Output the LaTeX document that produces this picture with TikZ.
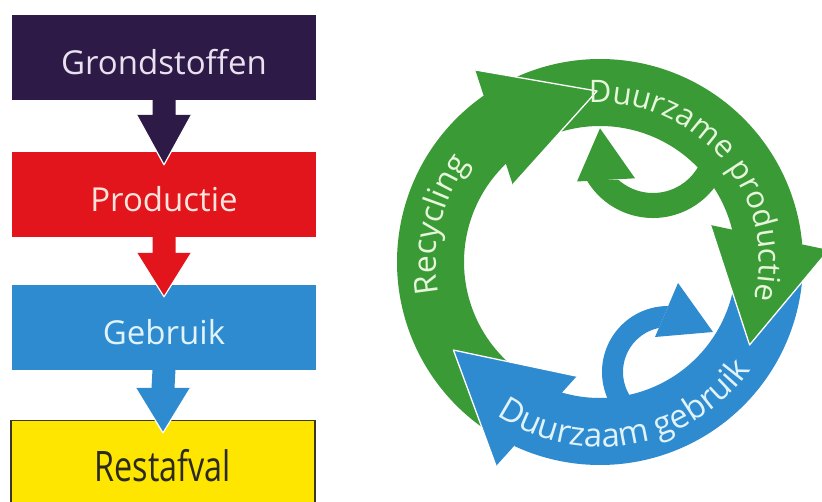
\documentclass[tikz,border=0pt]{standalone}
\usepackage{fontspec}
\setmainfont{Open Sans}
\usetikzlibrary{calc,decorations.text}

\definecolor{cpurple}{HTML}{2E1A46}
\definecolor{cred}{HTML}{E2141C}
\definecolor{cblue}{HTML}{2F8BCF}
\definecolor{cyellow}{HTML}{FFE600}
\definecolor{cborder}{HTML}{3C3820}
\definecolor{cgreen}{HTML}{3A9A36}
\definecolor{tpurple}{HTML}{E9E1F0}
\definecolor{tred}{HTML}{FCE4DC}
\definecolor{tblue}{HTML}{E0F3FA}
\definecolor{tyellow}{HTML}{2B2A1E}
\definecolor{tgreen}{HTML}{E6F6DA}

\newcommand\flowarrow[5]{% from, to, colour, head length, overlap
  \fill[#3] ($(#1.south)+(-11.5,1)$) -- ($(#2.north)+(-11.5,#4-#5)$) -- ($(#2.north)+(-27.5,#4-#5)$)
     -- ($(#2.north)+(0,-#5)$) -- ($(#2.north)+(27.5,#4-#5)$) -- ($(#2.north)+(11.5,#4-#5)$)
     -- ($(#1.south)+(11.5,1)$) -- cycle;
  \draw[white, line width=1.2pt, line join=round] ($(#2.north)+(-27.5,#4-#5)$) -- ($(#2.north)+(0,-#5)$) -- ($(#2.north)+(27.5,#4-#5)$);
}
\newcommand\ringseg[3]{% colour, angle 1, angle 2
  \fill[#1] ($(C)+(#2:203)$) arc[start angle=#2, end angle=#3, radius=203]
     -- ($(C)+(#3:136)$) arc[start angle=#3, end angle=#2, radius=136] -- cycle;
}
\newcommand\ringhead[2]{% colour, tip angle
  \fill[#1] ($(C)+(#2+32:229)$) -- ($(C)+(#2:171)$) -- ($(C)+(#2+47.5:116.5)$) -- cycle;
  \draw[white, line width=1.3pt, line join=round] ($(C)+(#2+32:229)$) -- ($(C)+(#2:171)$) -- ($(C)+(#2+47.5:116.5)$);
}

\begin{document}
\begin{tikzpicture}[x=1pt,y=1pt,
  box/.style={minimum width=304pt, minimum height=85pt, inner sep=0pt, text height=34pt, text depth=0pt,
    font=\fontsize{33}{36}\selectfont}]
\useasboundingbox (0,0) rectangle (822,501);
\clip (0,0) rectangle (822,501);

% ---------- linear chain ----------
\node[box, fill=cpurple, text=tpurple] (g) at (164,443.5) {Grondstoffen};
\node[box, fill=cred, text=tred] (p) at (164,306.5) {Productie};
\node[box, fill=cblue, text=tblue] (u) at (164,173.5) {Gebruik};
\node[box, fill=cyellow, draw=cborder, line width=1.2pt, text=tyellow, text height=37pt,
      font=\fontsize{42}{46}\selectfont] (r) at (163,38) {\scalebox{0.77}[1]{Restafval}};

\flowarrow{g}{p}{cpurple}{50}{13}
\flowarrow{p}{u}{cred}{44}{12}
\flowarrow{u}{r}{cblue}{45}{13}

% ---------- circular economy ----------
\coordinate (C) at (600,239);
\coordinate (S1) at (653,360);
\coordinate (S2) at (668,129);

% small inner arrows
\fill[cgreen] ($(S1)+(340:77)$) arc[start angle=340, end angle=210.4, radius=77]
   -- ($(S1)+(228.6:52)$) arc[start angle=228.6, end angle=340, radius=52] -- cycle;
\fill[cgreen] (577,319.5) -- (600,372.7) -- (635,322.7) -- cycle;

\fill[cblue] ($(S2)+(240:66)$) arc[start angle=240, end angle=89.8, radius=66]
   -- ($(S2)+(101.7:45)$) arc[start angle=101.7, end angle=240, radius=45] -- cycle;
\fill[cblue] (678,218) -- (713,169) -- (655,164) -- cycle;

% ring bodies
\ringseg{cgreen}{240}{125}
\ringseg{cgreen}{120}{5}
\ringseg{cblue}{360}{245}

% ring heads
\ringhead{cgreen}{91}
\ringhead{cgreen}{-29}
\ringhead{cblue}{211}

% ring texts
\path[decorate, decoration={text along path, text align=left,
  text={|\color{tgreen}\fontsize{32}{32}\selectfont|Recycling}}]
  ($(C)+(191:164)$) arc[start angle=191, end angle=110, radius=164];
\path[decorate, decoration={text along path, text align=left,
  text={|\color{tgreen}\fontsize{31}{31}\selectfont|Duurzame productie}}]
  ($(C)+(94:159)$) arc[start angle=94, end angle=-45, radius=159];
\path[decorate, decoration={text along path, text align=left,
  text={|\color{tblue}\fontsize{33}{33}\selectfont|Duurzaam gebruik}}]
  ($(C)+(236:185)$) arc[start angle=236, end angle=350, radius=185];
\end{tikzpicture}
\end{document}
